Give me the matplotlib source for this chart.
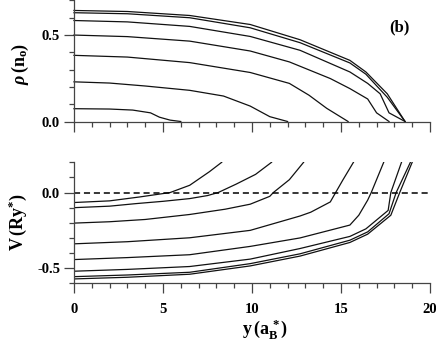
import matplotlib
matplotlib.use("Agg")
import matplotlib.pyplot as plt
from matplotlib.ticker import MultipleLocator

plt.rcParams['font.family'] = ['Liberation Serif', 'DejaVu Serif']
plt.rcParams['font.weight'] = 'bold'
plt.rcParams['mathtext.fontset'] = 'custom'
plt.rcParams['mathtext.rm'] = 'Liberation Serif:bold'
plt.rcParams['mathtext.it'] = 'Liberation Serif:italic:bold'
plt.rcParams['mathtext.bf'] = 'Liberation Serif:bold'

# ---- density profiles rho(y) (top panel) ----
rho_y1 = [0, 3, 6.5, 9.9, 12.7, 15.5, 16.4, 17.6, 18.6]
rho_v1 = [0.641, 0.635, 0.612, 0.560, 0.472, 0.353, 0.286, 0.160, 0.0]
rho_y2 = [0, 3, 6.5, 9.9, 12.7, 15.5, 16.4, 17.6, 18.6]
rho_v2 = [0.628, 0.622, 0.599, 0.541, 0.455, 0.338, 0.273, 0.140, 0.0]
rho_y3 = [0, 3, 6.5, 9.9, 12.7, 15.5, 16.5, 17.2, 17.7, 18.6]
rho_v3 = [0.583, 0.575, 0.549, 0.491, 0.411, 0.286, 0.220, 0.160, 0.050, 0.0]
rho_y4 = [0, 3, 6.5, 9.9, 12.1, 14.4, 15.5, 16.5, 17.0, 17.7]
rho_v4 = [0.499, 0.490, 0.464, 0.407, 0.344, 0.248, 0.190, 0.130, 0.050, 0.0]
rho_y5 = [0, 3, 6.5, 9.9, 12.1, 13.2, 14.2, 15.4]
rho_v5 = [0.382, 0.372, 0.340, 0.283, 0.220, 0.152, 0.076, 0.0]
rho_y6 = [0, 2, 4, 6.5, 8.4, 9.9, 11.0, 12.0]
rho_v6 = [0.229, 0.222, 0.205, 0.180, 0.147, 0.089, 0.028, 0.0]
rho_y7 = [0, 2, 3.3, 4.3, 4.8, 5.4, 6.0]
rho_v7 = [0.074, 0.072, 0.066, 0.050, 0.025, 0.008, 0.0]

# ---- potential profiles V(y) (bottom panel) ----
V_y1 = [0, 2, 3.7, 5.4, 6.5, 7.6, 8.3]
V_v1 = [-0.066, -0.055, -0.029, 0.0, 0.048, 0.137, 0.200]
V_y2 = [0, 2, 3.5, 5, 6.5, 7.5, 8.1, 9.1, 10.2, 11.1]
V_v2 = [-0.100, -0.090, -0.073, -0.058, -0.040, -0.020, 0.0, 0.055, 0.120, 0.200]
V_y3 = [0, 2, 4, 6.5, 8.5, 9.9, 11.0, 11.2, 12.1, 12.9]
V_v3 = [-0.202, -0.193, -0.178, -0.145, -0.110, -0.077, -0.025, 0.0, 0.085, 0.200]
V_y4 = [0, 3, 6.5, 9.9, 12.7, 13.3, 14.4, 14.7, 15.1, 15.7]
V_v4 = [-0.339, -0.325, -0.299, -0.250, -0.155, -0.130, -0.062, 0.0, 0.082, 0.200]
V_y5 = [0, 3, 6.5, 9.9, 12.7, 15.5, 16.0, 16.5, 16.7, 17.4]
V_v5 = [-0.443, -0.430, -0.411, -0.356, -0.300, -0.215, -0.150, -0.050, 0.0, 0.200]
V_y6 = [0, 3, 6.5, 9.9, 12.7, 15.5, 16.4, 17.65, 17.8, 18.4]
V_v6 = [-0.520, -0.508, -0.489, -0.440, -0.370, -0.290, -0.240, -0.118, 0.0, 0.200]
V_y7 = [0, 3, 6.5, 9.9, 12.7, 15.5, 16.5, 17.7, 18.1, 18.9]
V_v7 = [-0.556, -0.545, -0.527, -0.470, -0.405, -0.315, -0.260, -0.140, 0.0, 0.200]
V_y8 = [0, 3, 6.5, 9.9, 12.7, 15.5, 16.5, 17.8, 18.3, 19.0]
V_v8 = [-0.571, -0.560, -0.540, -0.485, -0.420, -0.330, -0.275, -0.150, 0.0, 0.200]

rho_curves = [(rho_y1, rho_v1), (rho_y2, rho_v2), (rho_y3, rho_v3), (rho_y4, rho_v4),
              (rho_y5, rho_v5), (rho_y6, rho_v6), (rho_y7, rho_v7)]
V_curves = [(V_y1, V_v1), (V_y2, V_v2), (V_y3, V_v3), (V_y4, V_v4),
            (V_y5, V_v5), (V_y6, V_v6), (V_y7, V_v7), (V_y8, V_v8)]

fig = plt.figure(figsize=(4.36, 3.45), dpi=100)
ax1 = fig.add_axes([0.1697, 0.6478, 0.8165, 0.3515])
ax2 = fig.add_axes([0.1697, 0.1788, 0.8165, 0.3508])

lc = '#111111'
lw = 0.9
for yy, vv in rho_curves:
    ax1.plot(yy, vv, color=lc, lw=lw, clip_on=False)
for yy, vv in V_curves:
    ax2.plot(yy, vv, color=lc, lw=lw)
ax2.axhline(0.0, color='black', lw=1.1, ls=(0, (4, 2.5)))

ax1.set_xlim(0, 20)
ax1.set_ylim(0, 0.7)
ax2.set_xlim(0, 20)
ax2.set_ylim(-0.6, 0.2)

for ax in (ax1, ax2):
    for s in ('top', 'right'):
        ax.spines[s].set_visible(False)
    for s in ('left', 'bottom'):
        ax.spines[s].set_color('#444444')
        ax.spines[s].set_linewidth(0.9)
    ax.xaxis.set_major_locator(MultipleLocator(5))
    ax.xaxis.set_minor_locator(MultipleLocator(1))
    ax.yaxis.set_major_locator(MultipleLocator(0.5))
    ax.yaxis.set_minor_locator(MultipleLocator(0.1))
    ax.tick_params(which='major', direction='out', length=7, width=0.9, color='#444444',
                   labelsize=10.5)
    ax.tick_params(which='minor', direction='out', length=3.5, width=0.9, color='#444444')
    ax.tick_params(axis='y', which='major', pad=3)
    ax.tick_params(axis='x', which='major', pad=7)
    for lab in ax.get_xticklabels() + ax.get_yticklabels():
        lab.set_fontweight('bold')

ax1.set_yticks([0.0, 0.5])
ax1.set_yticklabels(['0.0', '0.5'])
ax1.tick_params(axis='x', labelbottom=False)
ax2.set_yticks([-0.5, 0.0])
ax2.set_yticklabels(['-0.5', '0.0'])
ax2.set_xticks([0, 5, 10, 15, 20])
ax2.set_xticklabels(['0', '5', '10', '15', '20'])

fig.text(0.046, 0.815, r'$\rho\,(\mathrm{n}_\mathrm{o})$', rotation=90, ha='center', va='center',
         fontsize=13)
fig.text(0.040, 0.357, r'$\mathrm{V\,(Ry}^{*}\mathrm{)}$', rotation=90, ha='center', va='center',
         fontsize=13)
fig.text(0.608, 0.045, r'$\mathrm{y\,(a}_\mathrm{B}^{\,*}\mathrm{)}$', ha='center', va='center',
         fontsize=13)
ax1.text(18.3, 0.545, '(b)', ha='center', va='center', fontsize=12, fontweight='bold')

fig.savefig('out.png', dpi=100)
